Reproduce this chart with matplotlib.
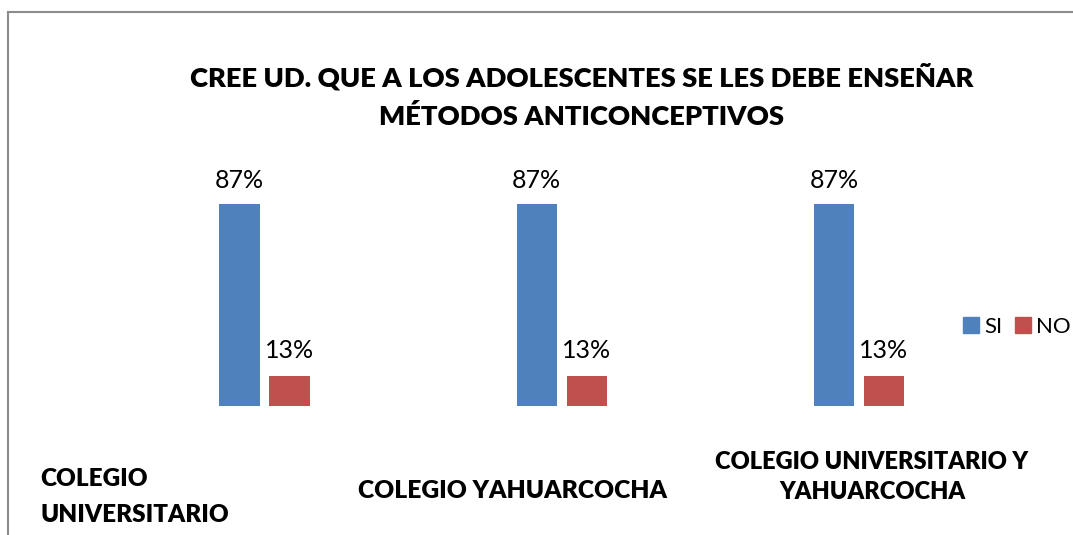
import matplotlib
matplotlib.use('Agg')
import matplotlib.pyplot as plt
from matplotlib.lines import Line2D
from matplotlib.patches import Patch

# chart data
categories = ['COLEGIO\nUNIVERSITARIO', 'COLEGIO YAHUARCOCHA', 'COLEGIO UNIVERSITARIO Y\nYAHUARCOCHA']
si_values = [87, 87, 87]
no_values = [13, 13, 13]
series_names = ['SI', 'NO']
title = 'CREE UD. QUE A LOS ADOLESCENTES SE LES DEBE ENSEÑAR\nMÉTODOS ANTICONCEPTIVOS'

plt.rcParams['font.family'] = ['Lato', 'DejaVu Sans']

fig = plt.figure(figsize=(10.73, 5.35), dpi=100)
ax = fig.add_axes([0.108, 0.2411, 0.8311, 0.4336])

x = list(range(len(categories)))
w = 0.135
off = 0.084
bars_si = ax.bar([i - off for i in x], si_values, width=w, color='#4F81BD', label=series_names[0])
bars_no = ax.bar([i + off for i in x], no_values, width=w, color='#C0504D', label=series_names[1])

ax.bar_label(bars_si, labels=[f'{v}%' for v in si_values], padding=9, fontsize=18)
ax.bar_label(bars_no, labels=[f'{v}%' for v in no_values], padding=10, fontsize=18)

ax.set_xlim(-0.5, 2.5)
ax.set_ylim(0, 100)
ax.axis('off')

# title
fig.text(0.542, 1 - 96 / 535, title, ha='center', va='center', fontsize=19.7, fontweight='heavy',
         linespacing=1.6)

# category labels (placed like the original)
fig.text(40 / 1073, 1 - 497 / 535, categories[0], ha='left', va='center', fontsize=17.5,
         fontweight='heavy', linespacing=1.8)
fig.text(513 / 1073, 1 - 491 / 535, categories[1], ha='center', va='center', fontsize=17.7,
         fontweight='heavy')
fig.text(872 / 1073, 1 - 477 / 535, categories[2], ha='center', va='center', fontsize=17,
         fontweight='heavy', linespacing=1.45, multialignment='center')

# legend
handles = [Patch(color='#4F81BD'), Patch(color='#C0504D')]
fig.legend(handles, series_names, loc='center left', bbox_to_anchor=(963 / 1073, 1 - 327 / 535),
           ncol=2, frameon=False, fontsize=16, handlelength=0.72, handleheight=0.72,
           handletextpad=0.22, columnspacing=0.6, borderpad=0, borderaxespad=0)

# chart border (partly cropped in the original)
fig.add_artist(Line2D([8 / 1073, 8 / 1073], [0, 1 - 12 / 535], color='#8c8c8c', lw=1.5,
                      transform=fig.transFigure))
fig.add_artist(Line2D([8 / 1073, 1], [1 - 12 / 535, 1 - 12 / 535], color='#8c8c8c', lw=1.5,
                      transform=fig.transFigure))

fig.savefig('out.png', dpi=100)
